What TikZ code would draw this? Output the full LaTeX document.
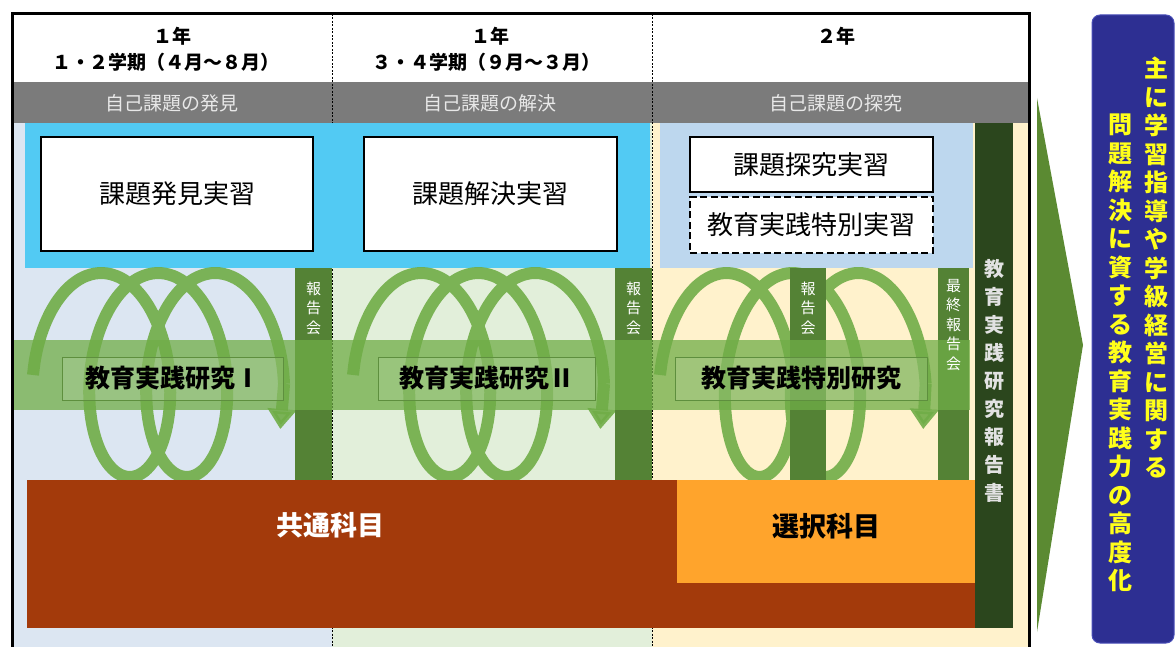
\documentclass[tikz,border=0pt]{standalone}
\usepackage{fontspec}
\setmainfont{Noto Sans CJK JP}
\usepackage{tikz}
\usetikzlibrary{
	arrows.meta,
	positioning
}
\definecolor{bgone}{HTML}{DCE6F2}
\definecolor{bgtwo}{HTML}{E2EFDA}
\definecolor{bgthree}{HTML}{FFF2CC}
\definecolor{stagegray}{HTML}{7B7B7B}
\definecolor{stagetext}{HTML}{E8E8E8}
\definecolor{cyanbox}{HTML}{52CAF3}
\definecolor{paleblue}{HTML}{BDD7EE}
\definecolor{coilgreen}{HTML}{70AD47}
\definecolor{reportgreen}{HTML}{548235}
\definecolor{studyedge}{HTML}{5E8F3E}
\definecolor{brownred}{HTML}{A33A0B}
\definecolor{electorange}{HTML}{FFA42C}
\definecolor{darkbar}{HTML}{2B461D}
\definecolor{reporttext}{HTML}{E2E2E2}
\definecolor{arrowgreen}{HTML}{5B8A32}
\definecolor{outcomeblue}{HTML}{2D2F92}
\definecolor{outcomeedge}{HTML}{4A4FB8}
\definecolor{outcometext}{HTML}{FFFF1A}
\tikzset{
	outerframe/.style={line width=3pt},
	divider/.style={line width=0.8pt,dash pattern=on 2pt off 1.5pt},
	yearlabel/.style={font=\fontsize{19}{23}\selectfont\bfseries,align=center},
	stagelabel/.style={font=\fontsize{19}{22}\selectfont,text=stagetext},
	practbox/.style={draw,line width=2pt,fill=white,inner sep=0pt,font=\fontsize{26}{30}\selectfont},
	coil/.style={draw=coilgreen,opacity=0.9,line width=12pt},
	coiltip/.style={coil,-{Triangle[width=28pt,length=20pt]}},
	studyband/.style={fill=coilgreen,fill opacity=0.75},
	studybox/.style={draw=studyedge,line width=1pt,fill=white,fill opacity=0.12,text opacity=1,inner sep=0pt,font=\fontsize{25}{28}\selectfont\bfseries},
	vlabel/.style={align=center,inner sep=0pt,text=white,font=\fontsize{15}{19.5}\selectfont},
	subject/.style={font=\fontsize{27}{30}\selectfont\bfseries},
	outcomelabel/.style={align=center,inner sep=0pt,text=outcometext,font=\fontsize{24}{28.5}\selectfont\bfseries}
}
\newcommand{\tikzCoil}[3]{
	\draw[coil] plot[domain=0:905,samples=120,smooth] ({#1+#3+\x/180*pi*#2-#3*cos(\x)},{375-102*sin(\x)});
	\draw[coiltip] ({#1+#3+905/180*pi*#2-#3*cos(905)},{375-102*sin(905)}) -- ({#1+#3+932/180*pi*#2-#3*cos(932)},{375-102*sin(932)});
}

\begin{document}
\begin{tikzpicture}[x=1pt,y=-1pt]
	\useasboundingbox (0,0) rectangle (1176,647);
	
	\fill[bgone] (12,123) rectangle (332,647);
	\fill[bgtwo] (332,123) rectangle (652,647);
	\fill[bgthree] (652,123) rectangle (1029,647);
	\fill[white] (12,14) rectangle (1029,82);
	\fill[stagegray] (12,82) rectangle (1029,123);
	
	\draw[divider] (332,14) -- (332,647);
	\draw[divider] (652,14) -- (652,647);
	
	\node[yearlabel] (year1) at (172,36) {１年};
	\node[yearlabel] (term1) at (166,62) {１・２学期（４月～８月）};
	\node[yearlabel] (year2) at (490,36) {１年};
	\node[yearlabel] (term2) at (486,62) {３・４学期（９月～３月）};
	\node[yearlabel] (year3) at (836,36) {２年};
	
	\node[stagelabel] (hakkenstage) at (172,103) {自己課題の発見};
	\node[stagelabel] (kaiketsustage) at (490,103) {自己課題の解決};
	\node[stagelabel] (tankyustage) at (836,103) {自己課題の探究};
	
	\fill[cyanbox] (25,123) rectangle (650,268);
	\fill[paleblue] (660,123) rectangle (973,268);
	
	\node[practbox,minimum width=272,minimum height=114] (hakken) at (177,194) {課題発見実習};
	\node[practbox,minimum width=253,minimum height=114] (kaiketsu) at (490.5,194) {課題解決実習};
	\node[practbox,minimum width=243,minimum height=55] (tankyu) at (811.5,164.5) {課題探究実習};
	\node[practbox,dash pattern=on 7pt off 3.5pt,minimum width=243,minimum height=56] (tokubetsu) at (811.5,225) {教育実践特別実習};
	
	\tikzCoil{33}{9.07}{54}
	\tikzCoil{353}{9.07}{54}
	\tikzCoil{660}{10.5}{50}
	
	\fill[reportgreen] (295,268) rectangle (332,480);
	\fill[reportgreen] (615,268) rectangle (652,480);
	\fill[reportgreen] (790,268) rectangle (826,480);
	\fill[reportgreen] (938,268) rectangle (969,480);
	
	\fill[studyband] (12,340) rectangle (970,410);
	
	\node[studybox,minimum width=221,minimum height=43] (kenkyu1) at (172.5,378.5) {教育実践研究Ⅰ};
	\node[studybox,minimum width=217,minimum height=43] (kenkyu2) at (486.5,378.5) {教育実践研究Ⅱ};
	\node[studybox,minimum width=252,minimum height=43] (tokken) at (801,378.5) {教育実践特別研究};
	
	\node[vlabel] (houkoku1) at (313.5,308) {報\\告\\会};
	\node[vlabel] (houkoku2) at (633.5,308) {報\\告\\会};
	\node[vlabel] (houkoku3) at (808,308) {報\\告\\会};
	\node[vlabel] (saishu) at (953.5,325) {最\\終\\報\\告\\会};
	
	\fill[brownred] (27,480) rectangle (978,628);
	\fill[electorange] (677,480) rectangle (975,583);
	\node[subject,text=white] (kyotsu) at (330,525) {共通科目};
	\node[subject,text=black] (sentaku) at (826,526) {選択科目};
	
	\fill[darkbar] (975,123) rectangle (1013,628);
	\node[vlabel,text=reporttext,font=\fontsize{20}{28}\selectfont\bfseries] (houkokusho) at (994,381) {教\\育\\実\\践\\研\\究\\報\\告\\書};
	
	\draw[outerframe] (12,647) -- (12,14) -- (1029,14) -- (1029,647);
	
	\fill[arrowgreen] (1037,98) -- (1083,345) -- (1037,632) -- cycle;
	\node[draw=outcomeedge,fill=outcomeblue,line width=1pt,rounded corners=8pt,minimum width=82,minimum height=628] (outcome) at (1133,329) {};
	\node[outcomelabel] (outcomeright) at (1156,267.5) {主\\に\\学\\習\\指\\導\\や\\学\\級\\経\\営\\に\\関\\す\\る};
	\node[outcomelabel] (outcomeleft) at (1120,353) {問\\題\\解\\決\\に\\資\\す\\る\\教\\育\\実\\践\\力\\の\\高\\度\\化};
\end{tikzpicture}
\end{document}
